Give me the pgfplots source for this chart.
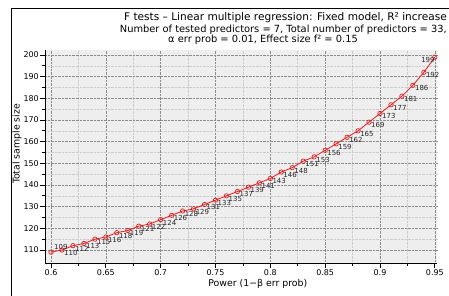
\documentclass[border=0pt]{standalone}
\usepackage{fontspec}
\setmainfont{DejaVu Sans}
\usepackage{pgfplots}
\usepackage{pgfplotstable}
\pgfplotsset{compat=1.18}
\definecolor{gpred}{RGB}{235,25,25}
\definecolor{plotbg}{RGB}{238,238,238}
\pgfplotstableread{
power n
0.60 109
0.61 110
0.62 112
0.63 113
0.64 115
0.65 116
0.66 118
0.67 119
0.68 121
0.69 122
0.70 124
0.71 126
0.72 128
0.73 129
0.74 131
0.75 133
0.76 135
0.77 137
0.78 139
0.79 141
0.80 143
0.81 146
0.82 148
0.83 151
0.84 153
0.85 156
0.86 159
0.87 162
0.88 165
0.89 169
0.90 173
0.91 177
0.92 181
0.93 186
0.94 192
0.95 199
}\powertable
\begin{document}
\begin{tikzpicture}
\path[use as bounding box] (0bp,0bp) rectangle (449bp,-296bp);
\draw[line width=1bp] (11bp,-330bp) -- (11bp,-8bp) -- (480bp,-8bp);
\node[anchor=base east, inner sep=0pt, font=\fontsize{10.6}{12}\selectfont] at (447bp,-20bp)
  {F tests – Linear multiple regression: Fixed model, R² increase};
\node[anchor=base east, inner sep=0pt, font=\fontsize{9.9}{11}\selectfont] at (447bp,-32.5bp)
  {Number of tested predictors = 7, Total number of predictors = 33,};
\node[anchor=base, inner sep=0pt, font=\fontsize{9.9}{11}\selectfont] at (263bp,-42.5bp)
  {α err prob = 0.01, Effect size f² = 0.15};
\begin{axis}[
  at={(45bp,-263bp)}, anchor=south west,
  scale only axis, width=392bp, height=213bp,
  xmin=0.5945, xmax=0.952, ymin=104, ymax=202.3,
  axis x line*=bottom, axis y line*=left,
  axis line style={line width=0.9bp},
  axis background/.style={fill=plotbg},
  xtick={0.6,0.65,0.7,0.75,0.8,0.85,0.9,0.95},
  xticklabels={0.6,0.65,0.7,0.75,0.8,0.85,0.9,0.95},
  ytick={110,120,130,140,150,160,170,180,190,200},
  minor x tick num=1, minor y tick num=1,
  tick align=outside,
  major tick length=5bp, minor tick length=3bp,
  tick style={black, line width=0.8bp},
  grid=both,
  major grid style={densely dotted, black!45, line width=0.6bp},
  minor grid style={densely dotted, black!20, line width=0.6bp},
  /pgf/number format/assume math mode=true,
  tick label style={font=\fontsize{8}{9}\selectfont},
  yticklabel style={inner sep=1bp},
  xticklabel style={inner sep=1.5bp},
  every axis x label/.style={at={(axis description cs:0.543,0)}, anchor=base, yshift=-23bp, font=\fontsize{9.4}{11}\selectfont},
  every axis y label/.style={at={(axis description cs:-0.0714,0.559)}, anchor=center, rotate=90, font=\fontsize{9.4}{11}\selectfont},
  xlabel={Power (1−β err prob)},
  ylabel={Total sample size},
  clip=false,
]
\addplot[gpred, line width=0.8bp, mark=o, mark size=2.2bp,
  mark options={fill=white, line width=0.7bp}] table[x=power, y=n] {\powertable};
\addplot[draw=none, mark=none, only marks,
  skip coords between index={0}{1}, skip coords between index={35}{36},
  nodes near coords, point meta=explicit symbolic,
  nodes near coords align={anchor=north west},
  every node near coord/.append style={inner sep=0pt, xshift=2bp, yshift=0bp, text=black!85, font=\fontsize{7}{7}\selectfont}]
  table[x=power, y=n, meta=n] {\powertable};
\addplot[draw=none, mark=none, only marks,
  skip coords between index={1}{36},
  nodes near coords, point meta=explicit symbolic,
  nodes near coords align={anchor=south west},
  every node near coord/.append style={inner sep=0pt, xshift=3bp, yshift=2bp, text=black!85, font=\fontsize{7}{7}\selectfont}]
  table[x=power, y=n, meta=n] {\powertable};
\addplot[draw=none, mark=none, only marks,
  skip coords between index={0}{35},
  nodes near coords, point meta=explicit symbolic,
  nodes near coords align={anchor=north east},
  every node near coord/.append style={inner sep=0pt, xshift=0bp, yshift=0bp, text=black!85, font=\fontsize{7}{7}\selectfont}]
  table[x=power, y=n, meta=n] {\powertable};
\end{axis}
\end{tikzpicture}
\end{document}
